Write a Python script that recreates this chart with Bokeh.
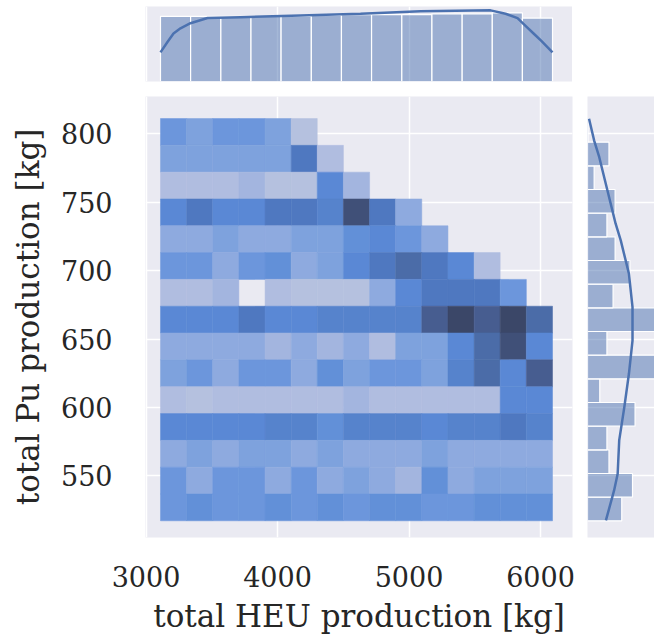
from bokeh.plotting import figure
from bokeh.layouts import column, row
from bokeh.models import Range1d, FixedTicker, LinearColorMapper, ColumnDataSource
from bokeh.embed import file_html
from bokeh.resources import INLINE

# ---- data -------------------------------------------------------------
# joint histogram bin edges
heu_edges = [3110, 3309, 3507, 3706, 3905, 4104, 4302, 4501, 4700,
             4898, 5097, 5296, 5495, 5693, 5892, 6091]
pu_edges = [517.2, 536.8, 556.4, 576.0, 595.6, 615.2, 634.9, 654.5,
            674.1, 693.7, 713.3, 732.9, 752.5, 772.1, 791.7, 811.3]
# counts, rows from top (highest Pu) to bottom, columns left to right
joint_counts = [
    [6, 5, 6, 6, 5, 1, 0, 0, 0, 0, 0, 0, 0, 0, 0],
    [5, 5, 5, 5, 5, 10, 2, 0, 0, 0, 0, 0, 0, 0, 0],
    [2, 2, 2, 3, 1, 1, 8, 3, 0, 0, 0, 0, 0, 0, 0],
    [8, 10, 8, 8, 10, 10, 9, 13, 10, 4, 0, 0, 0, 0, 0],
    [4, 4, 5, 4, 4, 5, 5, 7, 8, 6, 4, 0, 0, 0, 0],
    [6, 6, 4, 6, 7, 4, 5, 8, 10, 11, 10, 8, 2, 0, 0],
    [2, 2, 3, 0, 2, 1, 1, 1, 4, 8, 10, 10, 10, 6, 0],
    [8, 8, 8, 10, 8, 8, 9, 9, 9, 9, 12, 14, 12, 14, 11],
    [4, 4, 4, 4, 3, 4, 3, 4, 2, 5, 5, 8, 11, 13, 8],
    [5, 6, 4, 6, 6, 4, 7, 5, 6, 6, 5, 9, 11, 8, 12],
    [2, 1, 2, 2, 2, 2, 2, 3, 2, 2, 2, 2, 2, 8, 8],
    [8, 8, 8, 8, 9, 9, 7, 9, 9, 9, 8, 9, 9, 10, 9],
    [4, 5, 4, 5, 5, 4, 5, 4, 4, 4, 5, 4, 4, 4, 4],
    [6, 4, 6, 6, 4, 6, 4, 5, 4, 3, 7, 4, 5, 5, 5],
    [6, 7, 6, 6, 7, 6, 7, 6, 7, 7, 6, 6, 7, 7, 7],
]

# marginal histogram of HEU
heu_marg_edges = [3110, 3339, 3569, 3798, 4027, 4257, 4486, 4715, 4945,
                  5174, 5404, 5633, 5862, 6091]
heu_marg_counts = [76, 76, 76, 76, 76, 77, 78, 78, 78, 79, 79, 80, 74]
heu_kde_x = [3110, 3163, 3209, 3262, 3338, 3468, 3719, 4175, 4631, 5087,
             5620, 5734, 5825, 5886, 5947, 6008, 6091]
heu_kde_y = [34, 46, 56, 62, 68, 74, 75, 77, 79, 82, 83, 79, 74, 65, 56, 47, 34]

# marginal histogram of Pu (bottom to top)
pu_marg_edges = [517.2, 534.5, 551.8, 569.1, 586.4, 603.7, 621.0, 638.3,
                 655.6, 672.9, 690.2, 707.5, 724.8, 742.1, 759.4, 776.7,
                 794.0, 811.3]
pu_marg_counts = [67, 88, 42, 38, 93, 24, 137, 38, 139, 50, 83, 54, 38, 54,
                  13, 42, 1]
pu_kde_y = [517.5, 539.4, 551.6, 576.0, 600.3, 624.7, 649.0, 673.4, 697.8,
            722.2, 734.4, 758.7, 783.0, 795.2, 811.1]
pu_kde_x = [36, 52, 59, 62, 72, 81, 88, 88, 81, 65, 55, 39, 23, 13, 3]

x_ticks = [3000, 4000, 5000, 6000]
y_ticks = [550, 600, 650, 700, 750, 800]
x_label = "total HEU production [kg]"
y_label = "total Pu production [kg]"

# ---- style ------------------------------------------------------------
BG = "#eaeaf2"
C0 = "#4c72b0"
TXT = "#262626"
FONT = "DejaVu Serif"
palette = ["#b5c1df", "#b0bde0", "#a3b5df", "#8eaadf", "#7ea2dd", "#6c96dc",
           "#6290d8", "#5a88d5", "#5683cc", "#4f78c0", "#4b6ca8", "#475d90",
           "#405078", "#3b4768"]
mapper = LinearColorMapper(palette=palette, low=0.5, high=len(palette) + 0.5)

# ---- heatmap source -----------------------------------------------------
nrows = len(joint_counts)
L, R, B, T, C = [], [], [], [], []
for i, rowvals in enumerate(joint_counts):
    k = nrows - 1 - i
    for j, c in enumerate(rowvals):
        if c <= 0:
            continue
        L.append(heu_edges[j]); R.append(heu_edges[j + 1])
        B.append(pu_edges[k]); T.append(pu_edges[k + 1]); C.append(c)
src = ColumnDataSource(dict(l=L, r=R, b=B, t=T, c=C))

xr = Range1d(2996, 6243)
yr = Range1d(505, 827.4)

common = dict(output_backend="svg", toolbar_location=None,
              background_fill_color=BG, border_fill_color="white")

# ---- main -------------------------------------------------------------
p = figure(x_range=xr, y_range=yr, frame_width=427, frame_height=441,
           min_border_left=145, min_border_right=15, min_border_top=0,
           min_border_bottom=102, **common)
p.outline_line_color = None
p.quad(left="l", right="r", bottom="b", top="t", source=src,
       fill_color={"field": "c", "transform": mapper},
       line_color={"field": "c", "transform": mapper}, line_width=0.5)

for ax, ticks, lab in ((p.xaxis, x_ticks, x_label), (p.yaxis, y_ticks, y_label)):
    ax.ticker = FixedTicker(ticks=ticks)
    ax.axis_label = lab
    ax.axis_line_color = None
    ax.major_tick_line_color = None
    ax.minor_tick_line_color = None
    ax.major_tick_out = 0
    ax.major_label_text_font = FONT
    ax.major_label_text_font_size = "27px"
    ax.major_label_text_color = TXT
    ax.axis_label_text_font = FONT
    ax.axis_label_text_font_size = "31px"
    ax.axis_label_text_color = TXT
    ax.axis_label_text_font_style = "normal"
p.xaxis.major_label_standoff = 28
p.xaxis.axis_label_standoff = 8
p.yaxis.major_label_standoff = 33
p.yaxis.axis_label_standoff = 12
p.xgrid.ticker = FixedTicker(ticks=x_ticks)
p.ygrid.ticker = FixedTicker(ticks=y_ticks)
for g in (p.xgrid, p.ygrid):
    g.grid_line_color = "white"
    g.grid_line_width = 1.5

# ---- top marginal --------------------------------------------------------
top = figure(x_range=xr, y_range=Range1d(0, 87.5), frame_width=427,
             frame_height=75, min_border_left=145, min_border_right=0,
             min_border_top=6, min_border_bottom=15,
             x_axis_location=None, y_axis_location=None, **common)
top.outline_line_color = None
top.xgrid.ticker = FixedTicker(ticks=x_ticks)
top.xgrid.grid_line_color = "white"
top.xgrid.grid_line_width = 1.5
top.ygrid.visible = False
top.quad(left=heu_marg_edges[:-1], right=heu_marg_edges[1:], bottom=0,
         top=heu_marg_counts, fill_color=C0, fill_alpha=0.5,
         line_color="white", line_width=1.2)
top.line(heu_kde_x, heu_kde_y, line_color=C0, line_width=2.5)

# ---- right marginal ------------------------------------------------------
rt = figure(x_range=Range1d(0, 131), y_range=yr, frame_width=67,
            frame_height=441, min_border_left=0, min_border_right=0,
            min_border_top=0, min_border_bottom=102,
            x_axis_location=None, y_axis_location=None, **common)
rt.outline_line_color = None
rt.ygrid.ticker = FixedTicker(ticks=y_ticks)
rt.ygrid.grid_line_color = "white"
rt.ygrid.grid_line_width = 1.5
rt.xgrid.visible = False
rt.quad(left=0, right=pu_marg_counts, bottom=pu_marg_edges[:-1],
        top=pu_marg_edges[1:], fill_color=C0, fill_alpha=0.5,
        line_color="white", line_width=1.2)
rt.line(pu_kde_x, pu_kde_y, line_color=C0, line_width=2.5)

layout = column(top, row(p, rt))
open("out.html", "w").write(file_html(layout, INLINE))
